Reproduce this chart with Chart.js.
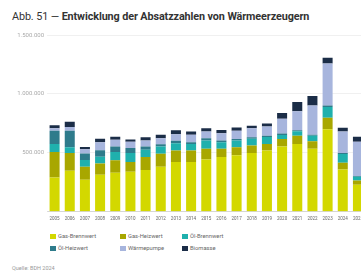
<!DOCTYPE html>
<html lang="de">
<head>
<meta charset="utf-8">
<script src="https://cdn.jsdelivr.net/npm/chart.js@4/dist/chart.umd.min.js"></script>
<style>
  html, body { margin: 0; padding: 0; background: #fff; }
  body { width: 361px; height: 273px; overflow: hidden; position: relative; font-family: Roboto, "Noto Sans", sans-serif; }
  #title { position: absolute; left: 12px; top: 10px; font-size: 10.8px; font-weight: 700; color: #333; white-space: nowrap; letter-spacing: -0.1px; }
  #title span { font-weight: 400; }
  #wrap { position: absolute; left: 0; top: 0; width: 368px; height: 227px; }
  #legend { position: absolute; left: 50px; top: 233px; font-size: 5.8px; color: #666; }
  .item { position: absolute; white-space: nowrap; line-height: 6px; }
  .item i { display: inline-block; width: 6px; height: 5px; margin-right: 2px; vertical-align: -1px; }
  #source { position: absolute; left: 12px; top: 265px; font-size: 5.5px; color: #999; }
</style>
</head>
<body>
<div id="title"><span>Abb. 51 — </span>Entwicklung der Absatzzahlen von Wärmeerzeugern</div>
<div id="wrap"><canvas id="chart"></canvas></div>
<div id="legend"></div>
<div id="source">Quelle: BDH 2024</div>
<script>
var jahre = ['2005','2006','2007','2008','2009','2010','2011','2012','2013','2014','2015',
             '2016','2017','2018','2019','2020','2021','2022','2023','2024','2025'];

var gasBrennwert = [289000, 347000, 271000, 312000, 331000, 339000, 353000, 381000, 422000, 422000, 442000,
                    464000, 478000, 497000, 520000, 553000, 575000, 533000, 700000, 358000, 228000];
var gasHeizwert  = [217000, 150000, 111000, 97000, 106000, 83000, 111000, 111000, 97000, 97000, 92000,
                    69000, 69000, 64000, 55000, 63000, 70000, 64000, 97000, 56000, 36000];
var oelBrennwert = [69000, 50000, 56000, 56000, 69000, 75000, 61000, 62000, 61000, 55000, 70000,
                    56000, 56000, 58000, 58000, 35000, 38000, 47000, 92000, 75000, 33000];
var oelHeizwert  = [112000, 139000, 55000, 56000, 47000, 44000, 28000, 17000, 22000, 14000, 19000,
                    14000, 14000, 12000, 12000, 12000, 8000, 8000, 12000, 8000, 5000];
var waermepumpe  = [22000, 33000, 37000, 69000, 58000, 53000, 50000, 53000, 55000, 64000, 58000,
                    63000, 70000, 78000, 78000, 125000, 162000, 250000, 356000, 183000, 292000];
var biomasse     = [25000, 44000, 19000, 28000, 25000, 19000, 28000, 28000, 33000, 28000, 28000,
                    28000, 28000, 20000, 25000, 50000, 78000, 80000, 50000, 33000, 42000];

var serien = [
  { label: 'Gas-Brennwert', data: gasBrennwert, color: '#d3d800' },
  { label: 'Gas-Heizwert',  data: gasHeizwert,  color: '#a8a700' },
  { label: 'Öl-Brennwert',  data: oelBrennwert, color: '#1fb0ad' },
  { label: 'Öl-Heizwert',   data: oelHeizwert,  color: '#2e7b8b' },
  { label: 'Wärmepumpe',    data: waermepumpe,  color: '#a7b5dd' },
  { label: 'Biomasse',      data: biomasse,     color: '#1b2d47' }
];

function tausender(v) {
  return String(v).replace(/\B(?=(\d{3})+(?!\d))/g, '.');
}

// Legende: 3 Spalten, 2 Zeilen
var spalten = [0, 70, 132];
var legend = document.getElementById('legend');
serien.forEach(function(s, i) {
  var el = document.createElement('div');
  el.className = 'item';
  el.style.left = spalten[i % 3] + 'px';
  el.style.top = (Math.floor(i / 3) * 12) + 'px';
  el.innerHTML = '<i style="background:' + s.color + '"></i>' + s.label;
  legend.appendChild(el);
});

var ctx = document.getElementById('chart');
var chart = new Chart(ctx, {
  type: 'bar',
  data: {
    labels: jahre,
    datasets: serien.map(function(s) {
      return {
        label: s.label,
        data: s.data,
        backgroundColor: s.color,
        borderWidth: 0,
        barPercentage: 0.66,
        categoryPercentage: 1
      };
    })
  },
  options: {
    responsive: true,
    maintainAspectRatio: false,
    animation: false,
    layout: { padding: { top: 35, left: 0, right: 0, bottom: 0 } },
    plugins: {
      legend: { display: false },
      tooltip: { enabled: false }
    },
    scales: {
      x: {
        stacked: true,
        grid: { display: false, drawTicks: false },
        border: { display: true, color: '#bbb', width: 0.5 },
        ticks: {
          autoSkip: false, maxRotation: 0, minRotation: 0, padding: 5,
          color: '#666', font: { family: 'Roboto', size: 4.5 }
        }
      },
      y: {
        stacked: true,
        min: 0, max: 1500000,
        afterFit: function(scale) { scale.width = 47; },
        grid: { color: '#e6e6e6', lineWidth: 0.6, drawTicks: false },
        border: { display: false },
        ticks: {
          stepSize: 500000, padding: 3,
          color: '#aaa', font: { family: 'Roboto', size: 6 },
          callback: function(v) { return v === 0 ? '' : tausender(v); }
        }
      }
    }
  }
});
</script>
</body>
</html>
